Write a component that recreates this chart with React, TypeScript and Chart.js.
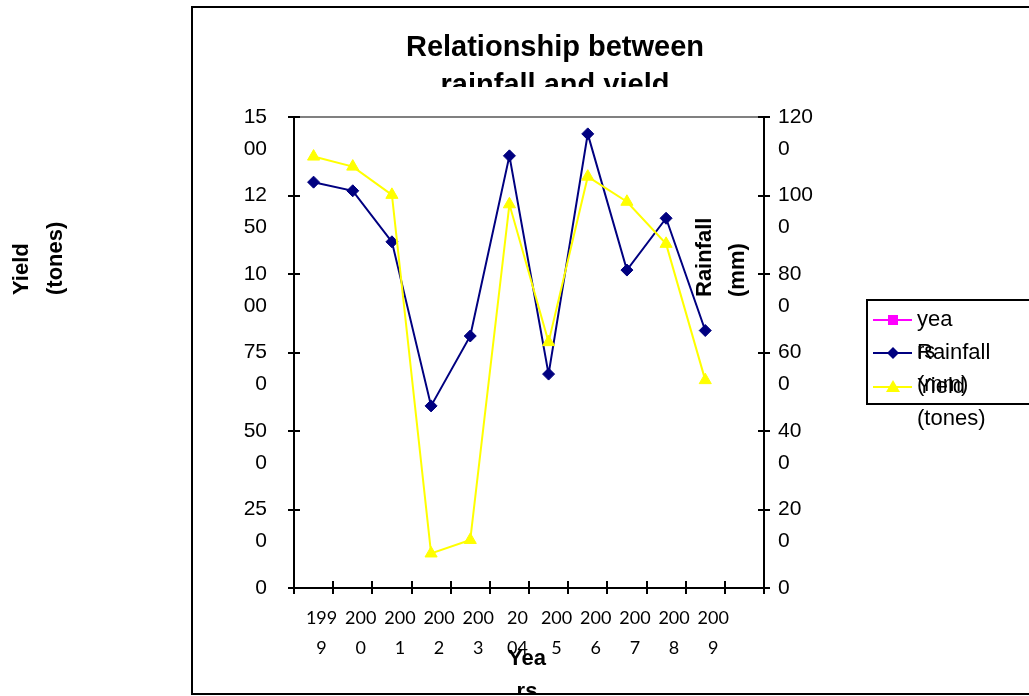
import React, { useEffect, useRef } from "react";
import { Chart, registerables } from "chart.js";

Chart.register(...registerables);

const categories = ["1999", "2000", "2001", "2002", "2003", "2004", "2005", "2006", "2007", "2008", "2009", ""];
const xTickLabels = [
  ["199", "9"], ["200", "0"], ["200", "1"], ["200", "2"], ["200", "3"], ["20", "04"],
  ["200", "5"], ["200", "6"], ["200", "7"], ["200", "8"], ["200", "9"], [""],
];
const yearsSeries = [1999, 2000, 2001, 2002, 2003, 2004, 2005, 2006, 2007, 2008, 2009];
const rainfallMm = [1034, 1012, 882, 464, 642, 1101, 545, 1157, 810, 942, 656];
const yieldTones = [1374, 1342, 1252, 110, 153, 1222, 783, 1310, 1230, 1096, 662];

const yieldTickValues = [0, 250, 500, 750, 1000, 1250, 1500];
const yieldTickLabels = [["0"], ["25", "0"], ["50", "0"], ["75", "0"], ["10", "00"], ["12", "50"], ["15", "00"]];
const rainfallTickValues = [0, 200, 400, 600, 800, 1000, 1200];
const rainfallTickLabels = [["0"], ["20", "0"], ["40", "0"], ["60", "0"], ["80", "0"], ["100", "0"], ["120", "0"]];

const titleLines = ["Relationship between", "rainfall and yield"];
const xTitleLines = ["Yea", "rs"];
const yTitleLines = ["Yield", "(tones)"];
const y1TitleLines = ["Rainfall", "(mm)"];
const legendItems = [
  { lines: ["yea", "rs"], color: "#FF00FF", marker: "square" },
  { lines: ["Rainfall", "(mm)"], color: "#000080", marker: "diamond" },
  { lines: ["Yield", "(tones)"], color: "#FFFF00", marker: "triangle" },
];

const ARIAL = "'Liberation Sans', Arial, sans-serif";

function tickLabel(values: number[], labels: string[][]) {
  return (value: any) => {
    const i = values.indexOf(Number(value));
    if (i < 0) return "";
    const l = labels[i];
    return l.length > 1 ? ["", ...l] : l[0];
  };
}

function drawMarker(ctx: CanvasRenderingContext2D, kind: string, x: number, y: number, color: string) {
  ctx.save();
  ctx.fillStyle = color;
  ctx.beginPath();
  if (kind === "square") {
    ctx.rect(x - 5, y - 5, 10, 10);
  } else if (kind === "diamond") {
    ctx.moveTo(x, y - 6);
    ctx.lineTo(x + 6, y);
    ctx.lineTo(x, y + 6);
    ctx.lineTo(x - 6, y);
    ctx.closePath();
  } else {
    ctx.moveTo(x, y - 7);
    ctx.lineTo(x + 7, y + 5);
    ctx.lineTo(x - 7, y + 5);
    ctx.closePath();
  }
  ctx.fill();
  ctx.restore();
}

const decorPlugin = {
  id: "decor",
  beforeDraw(chart: any) {
    const ctx = chart.ctx as CanvasRenderingContext2D;
    const a = chart.chartArea;
    ctx.save();
    ctx.fillStyle = "#fff";
    ctx.fillRect(0, 0, chart.width, chart.height);
    ctx.strokeStyle = "#000";
    ctx.lineWidth = 2;
    ctx.strokeRect(192, 7, 900, 687);
    ctx.strokeStyle = "#808080";
    ctx.lineWidth = 2;
    ctx.strokeRect(a.left, a.top, a.right - a.left, a.bottom - a.top);
    ctx.restore();
  },
  beforeDatasetsDraw(chart: any) {
    const ctx = chart.ctx as CanvasRenderingContext2D;
    const a = chart.chartArea;
    const y = chart.scales.y;
    const y1 = chart.scales.y1;
    const x = chart.scales.x;
    ctx.save();
    ctx.strokeStyle = "#000";
    ctx.lineWidth = 2;
    ctx.beginPath();
    yieldTickValues.forEach((v) => {
      const py = Math.round(y.getPixelForValue(v));
      ctx.moveTo(a.left, py);
      ctx.lineTo(a.left + 6, py);
    });
    rainfallTickValues.forEach((v) => {
      const py = Math.round(y1.getPixelForValue(v));
      ctx.moveTo(a.right, py);
      ctx.lineTo(a.right - 6, py);
    });
    const n = categories.length;
    for (let i = 0; i <= n; i++) {
      const px = Math.round(x.left + (i * (x.right - x.left)) / n);
      ctx.moveTo(px, a.bottom);
      ctx.lineTo(px, a.bottom - 7);
    }
    ctx.stroke();
    ctx.restore();
  },
  afterDraw(chart: any) {
    const ctx = chart.ctx as CanvasRenderingContext2D;
    const a = chart.chartArea;
    ctx.save();
    ctx.fillStyle = "#000";
    ctx.save();
    ctx.beginPath();
    ctx.rect(193, 8, 836, 79);
    ctx.clip();
    ctx.font = `bold 29px ${ARIAL}`;
    ctx.textAlign = "center";
    ctx.textBaseline = "alphabetic";
    ctx.fillText(titleLines[0], 555, 56);
    ctx.fillText(titleLines[1], 555, 94);
    ctx.restore();

    ctx.save();
    ctx.beginPath();
    ctx.rect(193, 8, 836, 685);
    ctx.clip();
    ctx.font = `bold 22px ${ARIAL}`;
    ctx.textAlign = "center";
    ctx.textBaseline = "middle";
    const cx = (a.left + a.right) / 2;
    ctx.fillText(xTitleLines[0], cx - 2, 659);
    ctx.fillText(xTitleLines[1], cx - 2, 692);
    ctx.restore();

    ctx.font = `bold 22px ${ARIAL}`;
    ctx.textAlign = "left";
    ctx.textBaseline = "middle";
    [22, 56].forEach((tx, i) => {
      ctx.save();
      ctx.translate(tx, 295);
      ctx.rotate(-Math.PI / 2);
      ctx.fillText(yTitleLines[i], 0, 0);
      ctx.restore();
    });
    [705, 738].forEach((tx, i) => {
      ctx.save();
      ctx.translate(tx, 297);
      ctx.rotate(-Math.PI / 2);
      ctx.fillText(y1TitleLines[i], 0, 0);
      ctx.restore();
    });

    ctx.fillStyle = "#fff";
    ctx.fillRect(867, 300, 200, 104);
    ctx.strokeStyle = "#000";
    ctx.lineWidth = 2;
    ctx.strokeRect(867, 300, 200, 104);
    const rows = [320, 353, 387];
    ctx.font = `22px ${ARIAL}`;
    ctx.textAlign = "left";
    ctx.textBaseline = "middle";
    legendItems.forEach((it, i) => {
      const ry = rows[i];
      ctx.strokeStyle = it.color;
      ctx.lineWidth = 2;
      ctx.beginPath();
      ctx.moveTo(873, ry);
      ctx.lineTo(912, ry);
      ctx.stroke();
      drawMarker(ctx, it.marker, 893, ry, it.color);
    });
    ctx.fillStyle = "#000";
    legendItems.forEach((it, i) => {
      const ry = rows[i];
      ctx.fillText(it.lines[0], 917, ry);
      ctx.fillText(it.lines[1], 917, ry + 32);
    });
    ctx.restore();
  },
};

export default function App() {
  const ref = useRef<HTMLCanvasElement | null>(null);
  useEffect(() => {
    if (!ref.current) return;
    const chart = new Chart(ref.current, {
      type: "line",
      data: {
        labels: categories,
        datasets: [
          {
            label: "Yield (tones)",
            data: yieldTones,
            yAxisID: "y",
            borderColor: "#FFFF00",
            backgroundColor: "#FFFF00",
            borderWidth: 2,
            pointStyle: "triangle",
            pointRadius: 7,
            pointBorderWidth: 1,
            tension: 0,
          },
          {
            label: "Rainfall (mm)",
            data: rainfallMm,
            yAxisID: "y1",
            borderColor: "#000080",
            backgroundColor: "#000080",
            borderWidth: 2,
            pointStyle: "rectRot",
            pointRadius: 6,
            pointBorderWidth: 1,
            tension: 0,
          },
          {
            label: "years",
            data: yearsSeries,
            yAxisID: "y",
            borderColor: "#FF00FF",
            backgroundColor: "#FF00FF",
            borderWidth: 2,
            pointStyle: "rect",
            pointRadius: 5,
          },
        ],
      },
      options: {
        responsive: false,
        animation: false,
        events: [],
        layout: { padding: { left: 191, right: 205, top: 117, bottom: 18 } },
        plugins: { legend: { display: false }, title: { display: false }, tooltip: { enabled: false } },
        scales: {
          x: {
            type: "category",
            offset: true,
            afterFit: (s: any) => { s.height = 90; },
            grid: { offset: true, drawOnChartArea: false, color: "#000", lineWidth: 2, tickLength: 6 },
            border: { display: true, color: "#000", width: 2 },
            ticks: {
              autoSkip: false,
              maxRotation: 0,
              minRotation: 0,
              padding: 9,
              labelOffset: 8,
              color: "#000",
              font: { family: "Lato, 'Open Sans', sans-serif", size: 18, lineHeight: 1.67 },
              callback: (_v: any, i: number) => xTickLabels[i],
            },
          },
          y: {
            position: "left",
            min: 0,
            max: 1500,
            afterFit: (s: any) => { s.width = 103; },
            afterBuildTicks: (s: any) => { s.ticks = yieldTickValues.map((v) => ({ value: v })); },
            grid: { drawOnChartArea: false, color: "#000", lineWidth: 2, tickLength: 6 },
            border: { display: true, color: "#000", width: 2 },
            ticks: {
              autoSkip: false,
              padding: 21,
              color: "#000",
              font: { family: ARIAL, size: 21, lineHeight: 1.52 },
              callback: tickLabel(yieldTickValues, yieldTickLabels),
            },
          },
          y1: {
            position: "right",
            min: 0,
            max: 1200,
            afterFit: (s: any) => { s.width = 60; },
            afterBuildTicks: (s: any) => { s.ticks = rainfallTickValues.map((v) => ({ value: v })); },
            grid: { drawOnChartArea: false, color: "#000", lineWidth: 2, tickLength: 6 },
            border: { display: true, color: "#000", width: 2 },
            ticks: {
              autoSkip: false,
              padding: 8,
              color: "#000",
              font: { family: ARIAL, size: 21, lineHeight: 1.52 },
              callback: tickLabel(rainfallTickValues, rainfallTickLabels),
            },
          },
        },
      },
      plugins: [decorPlugin],
    } as any);
    return () => chart.destroy();
  }, []);
  return (
    <div style={{ position: "fixed", left: 0, top: 0, width: 1029, height: 696 }}>
      <canvas ref={ref} width={1029} height={696} style={{ width: 1029, height: 696, display: "block" }} />
    </div>
  );
}
